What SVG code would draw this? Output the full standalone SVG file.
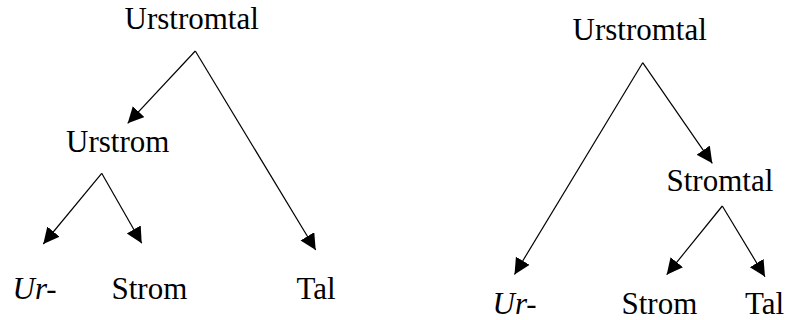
<svg xmlns="http://www.w3.org/2000/svg" width="789" height="320" viewBox="0 0 789 320">
<defs>
<marker id="ah" markerUnits="userSpaceOnUse" markerWidth="17" markerHeight="17" refX="16" refY="8" orient="auto">
<path d="M0,0 L16,8 L0,16 z" fill="#000"/>
</marker>
<style>
text{font-family:'Liberation Serif','Times New Roman',serif;font-size:31px;fill:#000}
.it{font-style:italic}
line{stroke:#000;stroke-width:1.2;marker-end:url(#ah)}
</style>
</defs>
<rect width="789" height="320" fill="#fff"/>
<g id="connectors">
<line x1="195.3" y1="51" x2="127.7" y2="123.3"/>
<line x1="195.3" y1="51" x2="315.7" y2="250"/>
<line x1="101.7" y1="173.3" x2="43.3" y2="244"/>
<line x1="101.7" y1="173.3" x2="141.7" y2="243.3"/>
<line x1="642.7" y1="62.7" x2="514.5" y2="274.5"/>
<line x1="642.7" y1="62.7" x2="712.3" y2="163.3"/>
<line x1="722.3" y1="206" x2="666.7" y2="274.7"/>
<line x1="722.3" y1="206" x2="765" y2="276.7"/>
</g>
<g id="n-left-urstromtal"><text x="124.5" y="28.5">Urstromtal</text></g>
<g id="n-left-urstrom"><text x="66" y="151.5">Urstrom</text></g>
<g id="n-left-ur"><text class="it" x="12.5" y="299">Ur-</text></g>
<g id="n-left-strom"><text x="111.5" y="299">Strom</text></g>
<g id="n-left-tal"><text x="296.5" y="299">Tal</text></g>
<g id="n-right-urstromtal"><text x="572.5" y="40">Urstromtal</text></g>
<g id="n-right-stromtal"><text x="666.5" y="190.5">Stromtal</text></g>
<g id="n-right-ur"><text class="it" x="492.5" y="313.5">Ur-</text></g>
<g id="n-right-strom"><text x="621.5" y="314">Strom</text></g>
<g id="n-right-tal"><text x="745" y="314">Tal</text></g>
</svg>
